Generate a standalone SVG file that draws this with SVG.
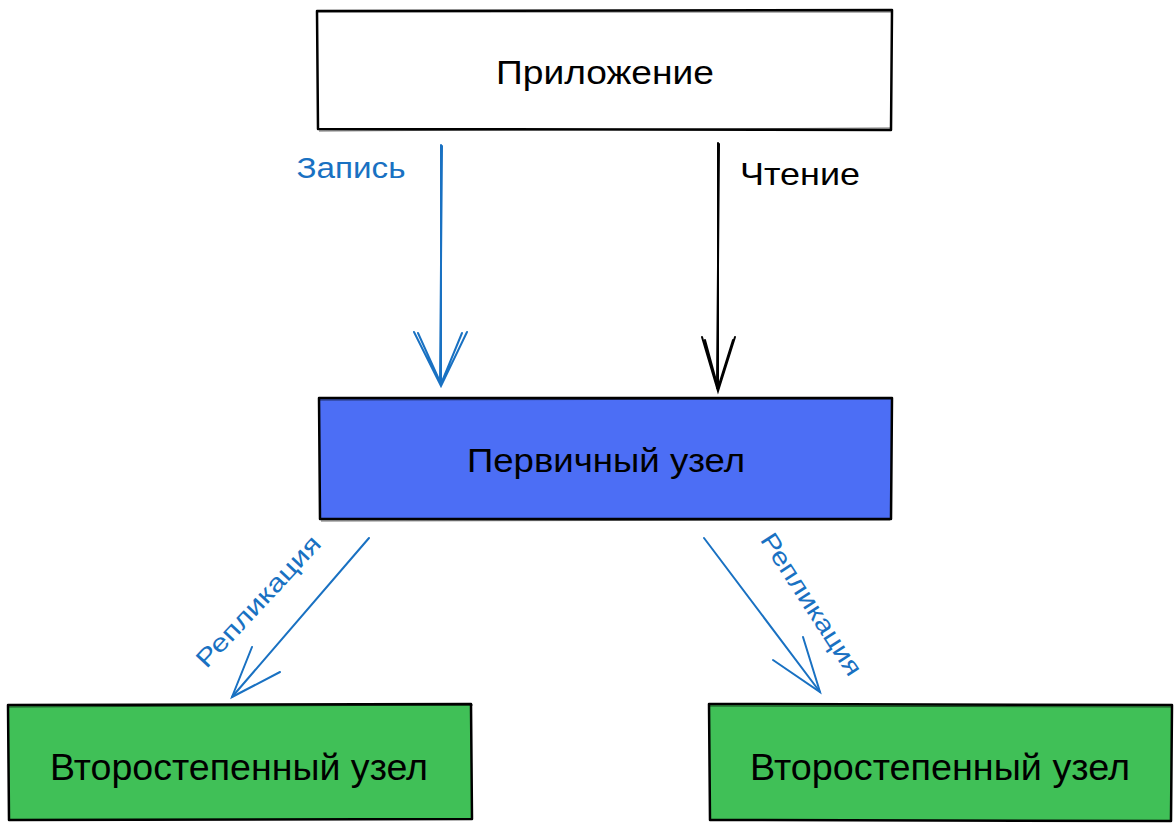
<svg xmlns="http://www.w3.org/2000/svg" width="1176" height="825" viewBox="0 0 1176 825">
<style>
.box{stroke:#000;stroke-width:2.5;stroke-linejoin:round}
.sk{fill:none;stroke:#000;stroke-width:1;opacity:0.6}
.t{font-family:"Liberation Sans","Noto Sans",sans-serif;fill:#000;text-anchor:middle;dominant-baseline:central}
.blue{stroke:#1971c2;fill:none;stroke-width:2;stroke-linecap:round}
.black{stroke:#000;fill:none;stroke-width:2;stroke-linecap:round}
.lb{font-family:"Liberation Sans","Noto Sans",sans-serif;fill:#1971c2;text-anchor:middle;dominant-baseline:central}
</style>
<rect width="1176" height="825" fill="#fff"/>
<g id="app">
<path class="box" fill="#fff" d="M317 11 L892 10 L891 130 L318 129 Z"/>
<path class="sk" d="M316 12 L893 12 M319 131 L890 128"/>
<text class="t" x="605" y="72" font-size="34" textLength="218" lengthAdjust="spacingAndGlyphs">Приложение</text>
</g>
<g id="primary">
<path class="box" fill="#4c6ef5" d="M319 398 L892 398 L891 519 L320 519 Z"/>
<path class="sk" d="M318 400 L893 399 M321 521 L890 520"/>
<text class="t" x="606" y="460" font-size="34" textLength="278" lengthAdjust="spacingAndGlyphs">Первичный узел</text>
</g>
<g id="secondary1">
<path class="box" fill="#40c057" d="M8 705 L471 704 L472 819 L9 820 Z"/>
<path class="sk" d="M7 707 L473 705"/>
<text class="t" x="239" y="767" font-size="36" textLength="378" lengthAdjust="spacingAndGlyphs">Второстепенный узел</text>
</g>
<g id="secondary2">
<path class="box" fill="#40c057" d="M709 704 L1172 705 L1171 821 L710 820 Z"/>
<path class="sk" d="M710 706 L1173 707"/>
<text class="t" x="940" y="767" font-size="36" textLength="380" lengthAdjust="spacingAndGlyphs">Второстепенный узел</text>
</g>
<g id="connectors">
<path class="blue" d="M441 145 L441 385 M442 146 L440 383"/>
<path class="blue" d="M414 332 L441 386 L467 332 M418 333 L441 384 L462 333"/>
<text class="lb" x="351" y="168" font-size="29" textLength="109" lengthAdjust="spacingAndGlyphs">Запись</text>
<path class="black" d="M718 143 L718 390 M719 144 L717 388"/>
<path class="black" d="M702 337 L718 391 L735 337 M705 340 L718 388 L733 340"/>
<text class="t" x="800" y="174" font-size="32" textLength="120" lengthAdjust="spacingAndGlyphs">Чтение</text>
<path class="blue" d="M369 538 L232 697"/>
<path class="blue" d="M252 647 L232 697 L280 672"/>
<text class="lb" font-size="25" textLength="170" lengthAdjust="spacingAndGlyphs" transform="translate(258,601) rotate(-47)">Репликация</text>
<path class="blue" d="M704 538 L820 692"/>
<path class="blue" d="M803 637 L820 692 L773 660"/>
<text class="lb" font-size="25" textLength="165" lengthAdjust="spacingAndGlyphs" transform="translate(812,604) rotate(57)">Репликация</text>
</g>
</svg>
